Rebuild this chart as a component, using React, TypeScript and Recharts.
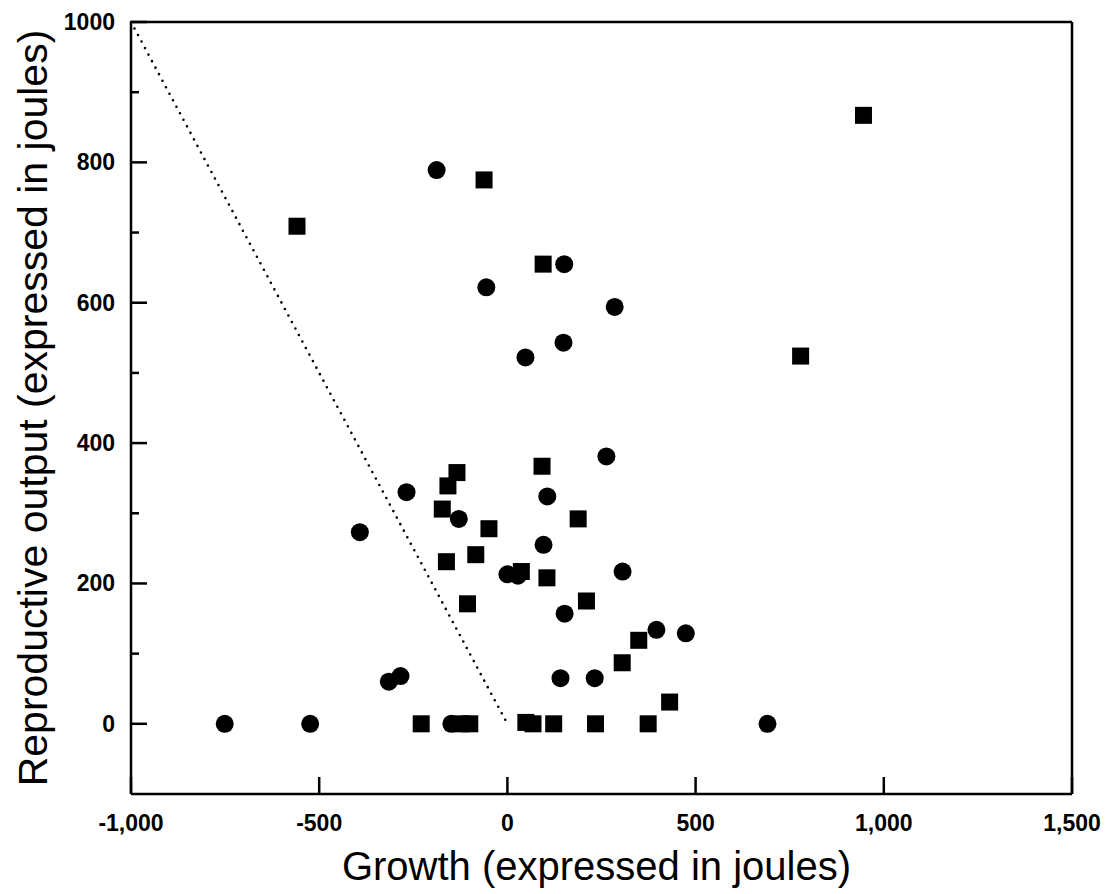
import { ScatterChart, Scatter, XAxis, YAxis, ReferenceLine } from 'recharts';

// circles
const circleGrowth = [-751, -524, -392, -315, -284, -268, -188, -149, -129, -56, 0, 28, 48, 96, 106, 141, 149, 151, 152, 232, 263, 285, 306, 396, 474, 691];
const circleOutput = [0, 0, 273, 60, 68, 330, 789, 0, 292, 622, 213, 211, 522, 255, 324, 65, 543, 655, 157, 65, 381, 594, 217, 134, 129, 0];

// squares
const squareGrowth = [-559, -229, -173, -162, -158, -134, -122, -106, -100, -84, -62, -49, 37, 49, 68, 92, 95, 105, 123, 188, 210, 234, 305, 349, 374, 431, 779, 946];
const squareOutput = [709, 0, 306, 231, 339, 358, 0, 171, 0, 241, 775, 278, 217, 2, 0, 367, 655, 208, 0, 292, 175, 0, 87, 119, 0, 31, 524, 867];

const xTicks = [-1000, -500, 0, 500, 1000, 1500];
const yTicks = [0, 100, 200, 300, 400, 500, 600, 700, 800, 900, 1000];

const circles = circleGrowth.map((g, i) => ({ growth: g, output: circleOutput[i] }));
const squares = squareGrowth.map((g, i) => ({ growth: g, output: squareOutput[i] }));

const FONT = '"Liberation Sans", Arial, sans-serif';
const AXIS = { stroke: '#000', strokeWidth: 2.5 };

const fmtX = (v: number) => (v < 0 ? '-' : '') + Math.abs(v).toLocaleString('en-US');

function XTick(props: any) {
  const { x, y, payload } = props;
  return (
    <g>
      <path d={`M${x},${y}V${y - 17}`} stroke="#000" strokeWidth={2.5} fill="none" />
      <text x={x} y={y + 29} textAnchor="middle" dominantBaseline="central" fontFamily={FONT} fontWeight={700} fontSize={23} fill="#000">
        {fmtX(payload.value)}
      </text>
    </g>
  );
}

function YTick(props: any) {
  const { x, y, payload } = props;
  const major = payload.value % 200 === 0;
  return (
    <g>
      <path d={`M${x},${y}H${x + (major ? 16 : 8)}`} stroke="#000" strokeWidth={2.5} fill="none" />
      {major && (
        <text x={x - 16} y={y} textAnchor="end" dominantBaseline="central" fontFamily={FONT} fontWeight={700} fontSize={23} fill="#000">
          {payload.value}
        </text>
      )}
    </g>
  );
}

const circleShape = (p: any) => <circle cx={p.cx} cy={p.cy} r={9} fill="#000" />;
const squareShape = (p: any) => <rect x={p.cx - 8.5} y={p.cy - 8.5} width={17} height={17} fill="#000" />;

export default function App() {
  return (
    <ScatterChart width={1104} height={886} margin={{ top: 13, right: 39, left: 0, bottom: 0 }} style={{ background: '#fff' }}>
      <XAxis
        type="number"
        dataKey="growth"
        domain={[-1000, 1500]}
        ticks={xTicks}
        interval={0}
        height={100}
        axisLine={AXIS}
        tickLine={false}
        tickSize={0}
        tickMargin={0}
        tick={<XTick />}
        allowDataOverflow
        label={{
          value: 'Growth (expressed in joules)',
          position: 'insideBottom',
          offset: 14,
          dx: -5,
          style: { fontFamily: FONT, fontSize: 40, fill: '#000' },
        }}
      />
      <XAxis xAxisId="top" orientation="top" type="number" domain={[-1000, 1500]} height={1} tick={false} tickLine={false} axisLine={AXIS} />
      <YAxis
        type="number"
        dataKey="output"
        domain={[-100, 1000]}
        ticks={yTicks}
        interval={0}
        width={123}
        axisLine={AXIS}
        tickLine={false}
        tickSize={0}
        tickMargin={0}
        tick={<YTick />}
        allowDataOverflow
        label={(props: any) => {
          const vb = props.viewBox;
          const cy = vb.y + vb.height / 2;
          const cx = 39;
          return (
            <text x={cx} y={cy} transform={`rotate(-90, ${cx}, ${cy})`} textAnchor="middle" fontFamily={FONT} fontSize={41} fill="#000">
              Reproductive output (expressed in joules)
            </text>
          );
        }}
      />
      <YAxis yAxisId="right" orientation="right" type="number" domain={[-100, 1000]} width={1} tick={false} tickLine={false} axisLine={AXIS} />
      <ReferenceLine
        segment={[{ x: -1000, y: 1000 }, { x: 0, y: 0 }]}
        stroke="#000"
        strokeWidth={2.6}
        strokeDasharray="0 7.4"
        strokeLinecap="round"
        ifOverflow="visible"
      />
      <Scatter data={circles} shape={circleShape} isAnimationActive={false} />
      <Scatter data={squares} shape={squareShape} isAnimationActive={false} />
    </ScatterChart>
  );
}
